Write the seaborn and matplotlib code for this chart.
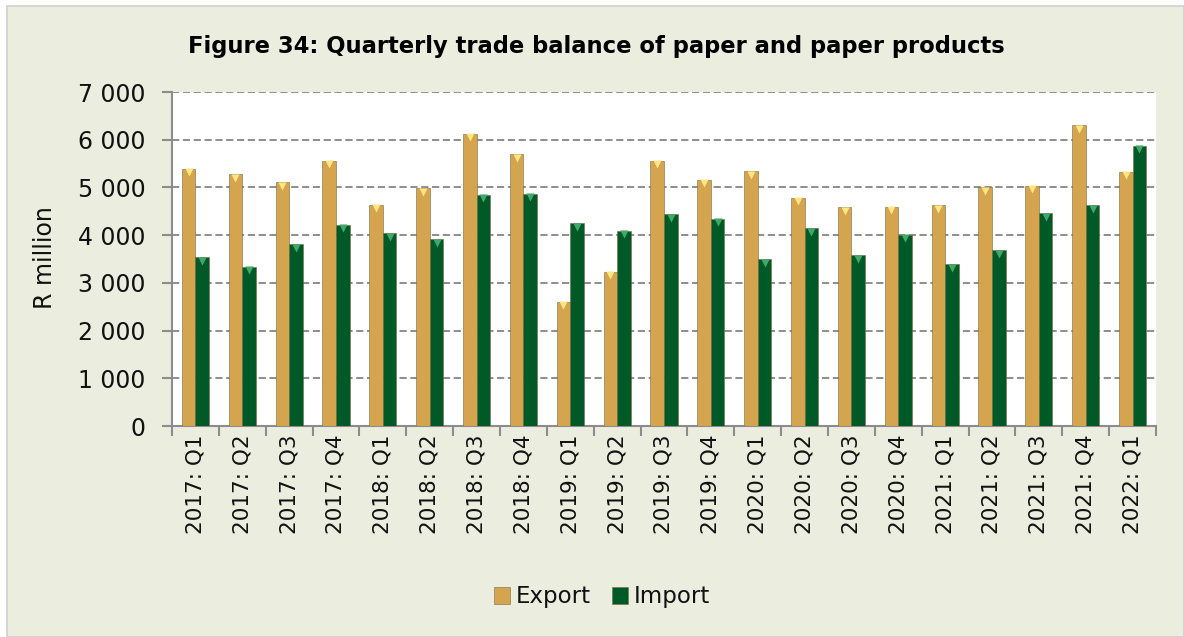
import matplotlib
matplotlib.use("Agg")
import matplotlib.pyplot as plt
from matplotlib.patches import Rectangle
from matplotlib.ticker import FuncFormatter, FixedLocator
from matplotlib.transforms import offset_copy
import seaborn as sns
import pandas as pd
import numpy as np

# Quarterly trade in paper and paper products (R million)
quarters = [
    "2017: Q1", "2017: Q2", "2017: Q3", "2017: Q4",
    "2018: Q1", "2018: Q2", "2018: Q3", "2018: Q4",
    "2019: Q1", "2019: Q2", "2019: Q3", "2019: Q4",
    "2020: Q1", "2020: Q2", "2020: Q3", "2020: Q4",
    "2021: Q1", "2021: Q2", "2021: Q3", "2021: Q4",
    "2022: Q1",
]
export_vals = [5390, 5275, 5107, 5561, 4639, 4988, 6127, 5694, 2606, 3228, 5561,
               5163, 5338, 4779, 4584, 4598, 4625, 5002, 5030, 6302, 5331]
import_vals = [3535, 3333, 3808, 4213, 4039, 3913, 4848, 4863, 4248, 4095, 4443,
               4339, 3500, 4143, 3578, 4010, 3389, 3682, 4464, 4625, 5869]
series_names = ["Export", "Import"]
y_ticks = [0, 1000, 2000, 3000, 4000, 5000, 6000, 7000]

title = "Figure 34: Quarterly trade balance of paper and paper products"
y_label = "R million"

gold = "#D4A44E"
green = "#005A28"
tip_colors = {"Export": "#FFE680", "Import": "#3FA86A"}
bg = "#EBEEDF"
text_col = "#111111"

df = pd.DataFrame({
    "Quarter": quarters * 2,
    "Series": [series_names[0]] * len(quarters) + [series_names[1]] * len(quarters),
    "Value": export_vals + import_vals,
})

sns.set_theme(style="white")
plt.rcParams["font.family"] = ["DejaVu Sans"]
plt.rcParams["text.color"] = text_col

fig = plt.figure(figsize=(11.84, 6.37), dpi=100, facecolor="white")
# chart area panel behind everything
fig.patches.append(Rectangle((7 / 1184, 0), 1 - 7 / 1184, 1 - 6 / 637,
                             transform=fig.transFigure, facecolor=bg,
                             edgecolor="#D0D0D0", linewidth=1.2, zorder=-10))

ax = fig.add_axes([172 / 1184, 1 - 426 / 637, (1156 - 172) / 1184, (426 - 92) / 637])
ax.set_facecolor("white")

sns.barplot(data=df, x="Quarter", y="Value", hue="Series", order=quarters,
            hue_order=series_names, palette=[gold, green], width=0.58, gap=0,
            saturation=1, edgecolor="#7A6A40", linewidth=0.4, ax=ax, zorder=3,
            legend=True)

# bevel highlight just inside the top of each bar
tip_transform = offset_copy(ax.transData, fig=fig, y=-3.5, units="dots")
for container, name in zip(ax.containers, series_names):
    xs = [p.get_x() + p.get_width() / 2 for p in container.patches]
    ys = [p.get_height() for p in container.patches]
    ax.scatter(xs, ys, marker="v", s=34, color=tip_colors[name], zorder=4,
               linewidths=0, transform=tip_transform)

ax.set_xlim(-0.5, len(quarters) - 0.5)
ax.set_ylim(0, 7000)
ax.yaxis.set_major_locator(FixedLocator(y_ticks))
ax.yaxis.set_major_formatter(FuncFormatter(lambda v, p: f"{int(v):,}".replace(",", " ")))

ax.grid(axis="y", color="#858585", linestyle=(0, (4, 2)), linewidth=1.3, zorder=1)
ax.set_axisbelow(True)
for s in ["top", "right"]:
    ax.spines[s].set_visible(False)
for s in ["left", "bottom"]:
    ax.spines[s].set_color("#8C8C8C")
    ax.spines[s].set_linewidth(1.5)

ax.set_xticks(range(len(quarters)))
ax.set_xticklabels(quarters, rotation=90, fontsize=15.5, color=text_col)
ax.set_xticks(np.arange(-0.5, len(quarters), 1.0), minor=True)
ax.tick_params(axis="x", which="major", length=0, pad=6)
ax.tick_params(axis="x", which="minor", length=7, width=1.5, color="#8C8C8C",
               direction="out", bottom=True)
ax.tick_params(axis="y", which="major", length=7, width=1.5, color="#8C8C8C",
               direction="out", left=True, labelsize=17, labelcolor=text_col, pad=12)

ax.set_xlabel("")
ax.set_ylabel("")
fig.text(45 / 1184, 1 - 258 / 637, y_label, rotation=90, ha="center", va="center",
         fontsize=17, color=text_col)
fig.text(596 / 1184, 1 - 47 / 637, title, ha="center", va="center",
         fontsize=16.3, fontweight="bold", color="#000000")

handles, labels = ax.get_legend_handles_labels()
ax.get_legend().remove()
leg = fig.legend(handles, labels, loc="center", bbox_to_anchor=(602 / 1184, 1 - 597 / 637),
                 ncol=2, frameon=False, fontsize=16.5, handlelength=0.7, handleheight=0.7,
                 handletextpad=0.25, columnspacing=0.9)
for t in leg.get_texts():
    t.set_color(text_col)

fig.savefig("out.png", dpi=100, facecolor=fig.get_facecolor())
